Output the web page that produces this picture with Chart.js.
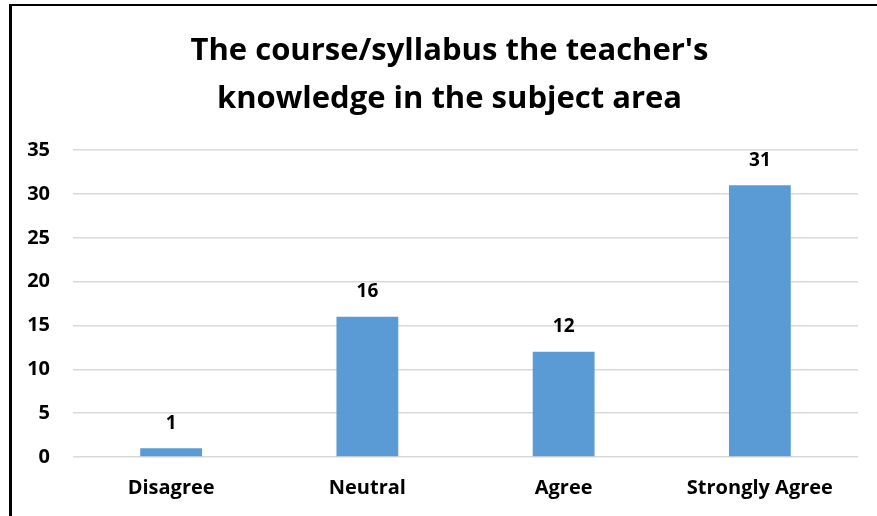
<!DOCTYPE html>
<html>
<head>
<meta charset="utf-8">
<script src="https://cdn.jsdelivr.net/npm/chart.js@4"></script>
<style>
  html, body { margin: 0; padding: 0; background: #fff; }
  #wrap { position: relative; width: 877px; height: 516px; overflow: hidden; }
  #frame { position: absolute; left: 9px; top: 4px; width: 900px; height: 600px;
           border-left: 3px solid #000; border-top: 2px solid #000; }
  canvas { position: absolute; left: 0; top: 0; }
</style>
</head>
<body>
<div id="wrap">
  <div id="frame"></div>
  <canvas id="chart" width="877" height="516"></canvas>
</div>
<script>
const titleLines = ["The course/syllabus the teacher's", "knowledge in the subject area"];
const categories = ["Disagree", "Neutral", "Agree", "Strongly Agree"];
const counts = [1, 16, 12, 31];
const yTicks = [0, 5, 10, 15, 20, 25, 30, 35];

const FONT = "'Open Sans'";

// value labels above each bar
const barLabels = {
  id: 'barLabels',
  afterDatasetsDraw(chart) {
    const ctx = chart.ctx;
    const meta = chart.getDatasetMeta(0);
    ctx.save();
    ctx.font = "bold 19px " + FONT;
    ctx.fillStyle = "#000";
    ctx.textAlign = "center";
    ctx.textBaseline = "middle";
    meta.data.forEach((bar, i) => {
      const p = bar.getProps(['x', 'y'], true);
      ctx.fillText(String(counts[i]), p.x, p.y - 25);
    });
    ctx.restore();
  }
};

// the title sits a little right of the canvas centre in the original
const titleShift = {
  id: 'titleShift',
  afterLayout(chart) {
    if (chart.titleBlock) chart.titleBlock.left += 31;
  }
};

let ctx = document.getElementById('chart');

let chart = new Chart(ctx, {
  type: 'bar',
  data: {
    labels: categories,
    datasets: [{
      label: 'Count',
      data: counts,
      backgroundColor: '#5B9BD5',
      categoryPercentage: 1,
      barPercentage: 0.315,
    }]
  },
  options: {
    responsive: false,
    animation: false,
    layout: { padding: { left: 10, right: 19, top: 0, bottom: 0 } },
    plugins: {
      legend: { display: false },
      tooltip: { enabled: false },
      title: {
        display: true,
        text: titleLines,
        color: '#000',
        font: { family: FONT, size: 31, weight: 'bold', lineHeight: 1.52 },
        padding: { top: 28, bottom: 28 },
      },
    },
    scales: {
      x: {
        grid: { display: false, drawTicks: false },
        border: { display: false },
        ticks: { color: '#000', font: { family: FONT, size: 20, weight: 'bold' }, padding: 19 },
        afterFit(scale) { scale.height = 59; },
      },
      y: {
        min: 0,
        max: 35,
        afterBuildTicks(scale) { scale.ticks = yTicks.map(v => ({ value: v })); },
        grid: { color: '#d9d9d9', lineWidth: 1.5, drawTicks: false },
        border: { display: false },
        ticks: { color: '#000', font: { family: FONT, size: 20, weight: 'bold' }, padding: 23 },
        afterFit(scale) { scale.width = 63; },
      }
    }
  },
  plugins: [barLabels, titleShift]
});
</script>
</body>
</html>
